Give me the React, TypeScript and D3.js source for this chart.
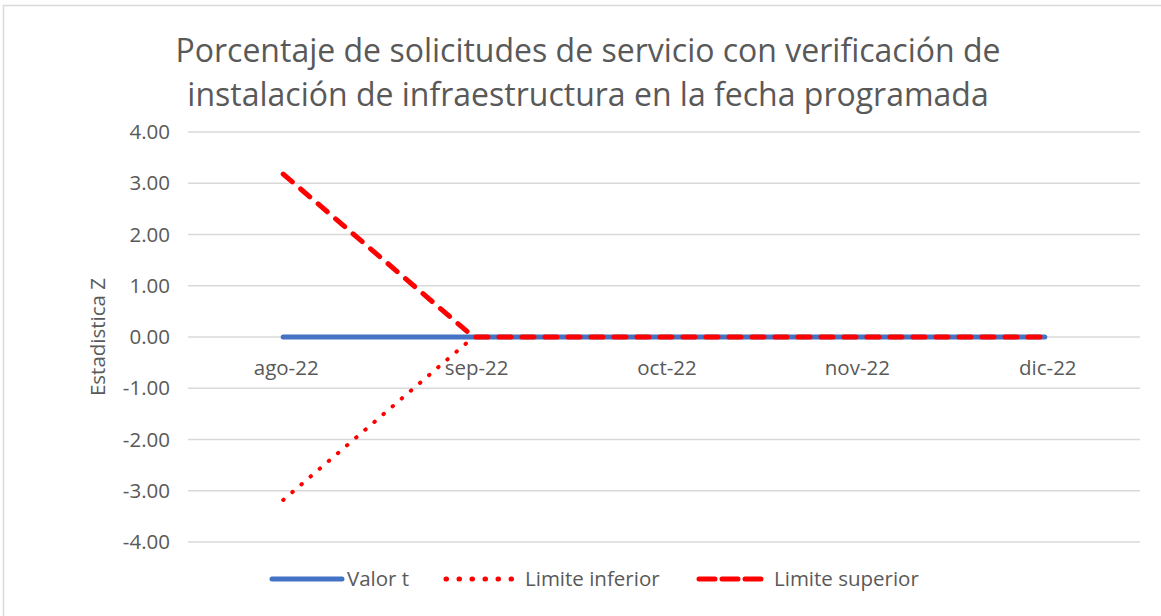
import React, { useRef, useEffect } from "react";
import * as d3 from "d3";

const WIDTH = 1161;
const HEIGHT = 616;
const MARGIN = { top: 132, right: 21, bottom: 74, left: 188 };

const categories = ["ago-22", "sep-22", "oct-22", "nov-22", "dic-22"];
const valorT = [0, 0, 0, 0, 0];
const limiteInferior = [-3.18, 0, 0, 0, 0];
const limiteSuperior = [3.18, 0, 0, 0, 0];
const yTicks = [4, 3, 2, 1, 0, -1, -2, -3, -4];
const titleLines = [
  "Porcentaje de solicitudes de servicio con verificación de",
  "instalación de infraestructura en la fecha programada",
];

const FONT = "'Open Sans', sans-serif";
const TEXT = "#595959";
const AXIS_FS = 20.5;

export default function App() {
  const svgRef = useRef<SVGSVGElement | null>(null);

  useEffect(() => {
    const svg = d3.select(svgRef.current);
    svg.selectAll("*").remove();

    // frame
    svg
      .append("path")
      .attr("d", `M3.5,${HEIGHT} V5.5 H${WIDTH}`)
      .attr("fill", "none")
      .attr("stroke", "#d9d9d9")
      .attr("stroke-width", 1.5);

    const x = d3
      .scaleBand<string>()
      .domain(categories)
      .range([MARGIN.left, WIDTH - MARGIN.right]);
    const y = d3
      .scaleLinear()
      .domain([-4, 4])
      .range([HEIGHT - MARGIN.bottom, MARGIN.top]);
    const cx = (c: string) => (x(c) ?? 0) + x.bandwidth() / 2;

    // grid
    svg
      .append("g")
      .selectAll("line")
      .data(yTicks)
      .enter()
      .append("line")
      .attr("x1", MARGIN.left)
      .attr("x2", WIDTH - MARGIN.right)
      .attr("y1", (d) => y(d))
      .attr("y2", (d) => y(d))
      .attr("stroke", "#d9d9d9")
      .attr("stroke-width", 1.3);

    // y tick labels
    svg
      .append("g")
      .selectAll("text")
      .data(yTicks)
      .enter()
      .append("text")
      .attr("x", 170)
      .attr("y", (d) => y(d))
      .attr("dy", "0.35em")
      .attr("text-anchor", "end")
      .attr("font-family", FONT)
      .attr("font-size", AXIS_FS)
      .attr("fill", TEXT)
      .text((d) => d.toFixed(2));

    // x labels near zero line
    svg
      .append("g")
      .selectAll("text")
      .data(categories)
      .enter()
      .append("text")
      .attr("x", (d) => cx(d) + 3)
      .attr("y", y(0) + 38)
      .attr("text-anchor", "middle")
      .attr("font-family", FONT)
      .attr("font-size", AXIS_FS)
      .attr("fill", TEXT)
      .text((d) => d);

    // y axis title
    svg
      .append("text")
      .attr("transform", `translate(105,${y(0)}) rotate(-90)`)
      .attr("text-anchor", "middle")
      .attr("font-family", FONT)
      .attr("font-size", AXIS_FS)
      .attr("fill", TEXT)
      .text("Estadistica Z");

    // title
    svg
      .append("g")
      .selectAll("text")
      .data(titleLines)
      .enter()
      .append("text")
      .attr("x", 588)
      .attr("y", (_, i) => 62 + i * 44)
      .attr("text-anchor", "middle")
      .attr("font-family", FONT)
      .attr("font-size", 32)
      .attr("fill", TEXT)
      .text((d) => d);

    const line = d3
      .line<number>()
      .x((_, i) => cx(categories[i]))
      .y((d) => y(d));

    const series = [
      { values: limiteInferior, color: "#ff0000", dash: "0.5 11.5", width: 4 },
      { values: valorT, color: "#4472c4", dash: null, width: 5 },
      { values: limiteSuperior, color: "#ff0000", dash: "12 11", width: 5 },
    ];

    series.forEach((s) => {
      svg
        .append("path")
        .datum(s.values)
        .attr("fill", "none")
        .attr("stroke", s.color)
        .attr("stroke-width", s.width)
        .attr("stroke-linecap", "round")
        .attr("stroke-dasharray", s.dash)
        .attr("d", line);
    });

    // legend
    const legend = [
      { name: "Valor t", color: "#4472c4", dash: null, width: 5, x: 272, len: 70, tx: 347 },
      { name: "Limite inferior", color: "#ff0000", dash: "0.5 12.5", width: 5, x: 446, len: 66, tx: 525 },
      { name: "Limite superior", color: "#ff0000", dash: "16 7", width: 5, x: 699, len: 62, tx: 774 },
    ];
    const ly = 579;
    legend.forEach((l) => {
      svg
        .append("line")
        .attr("x1", l.x)
        .attr("x2", l.x + l.len)
        .attr("y1", ly)
        .attr("y2", ly)
        .attr("stroke", l.color)
        .attr("stroke-width", l.width)
        .attr("stroke-linecap", "round")
        .attr("stroke-dasharray", l.dash);
      svg
        .append("text")
        .attr("x", l.tx)
        .attr("y", ly)
        .attr("dy", "0.35em")
        .attr("font-family", FONT)
        .attr("font-size", AXIS_FS)
        .attr("fill", TEXT)
        .text(l.name);
    });
  }, []);

  return (
    <svg
      ref={svgRef}
      width={WIDTH}
      height={HEIGHT}
      style={{ position: "absolute", left: 0, top: 0, background: "#fff" }}
    />
  );
}
